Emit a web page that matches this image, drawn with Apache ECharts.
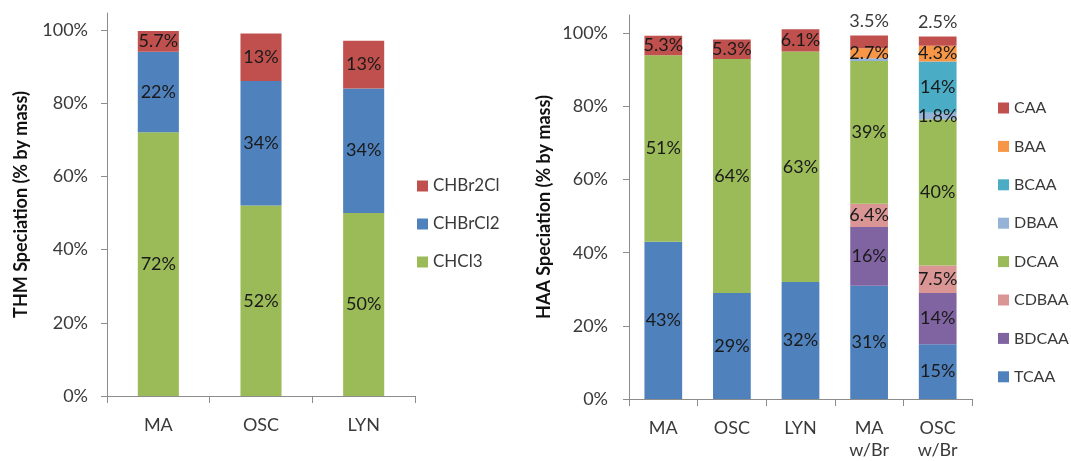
<!DOCTYPE html>
<html>
<head>
<meta charset="utf-8">
<script src="https://cdn.jsdelivr.net/npm/echarts@6/dist/echarts.min.js"></script>
<style>
  html, body { margin: 0; padding: 0; background: #fff; }
  #chart { width: 1071px; height: 461px; }
</style>
</head>
<body>
<div id="chart"></div>
<script>
// THM speciation by site (% by mass)
const thmSites = ['MA', 'OSC', 'LYN'];
const chcl3   = [72, 52, 50];
const chbrcl2 = [22, 34, 34];
const chbr2cl = [5.7, 13, 13];

// HAA speciation by site (% by mass)
const haaSites = ['MA', 'OSC', 'LYN', 'MA\nw/Br', 'OSC\nw/Br'];
const tcaa  = [43, 29, 32, 31, 15];
const bdcaa = [0, 0, 0, 16, 14];
const cdbaa = [0, 0, 0, 6.4, 7.5];
const dcaa  = [51, 64, 63, 39, 40];
const dbaa  = [0, 0, 0, 0.8, 1.8];
const bcaa  = [0, 0, 0, 0, 14];
const baa   = [0, 0, 0, 2.7, 4.3];
const caa   = [5.3, 5.3, 6.1, 3.5, 2.5];

const pctTicks = [0, 20, 40, 60, 80, 100];

const FONT = 'Lato';
const AXIS_GRAY = '#8c8c8c';
const TEXT = '#3a3a3a';

const labelFmt = p => (p.value >= 1 ? p.value + '%' : '');

function barSeries(name, values, color, axisIdx, gap) {
  return {
    name, type: 'bar', stack: 'total' + axisIdx,
    xAxisIndex: axisIdx, yAxisIndex: axisIdx,
    barCategoryGap: gap,
    itemStyle: { color },
    label: {
      show: true, position: 'inside', formatter: labelFmt,
      fontFamily: FONT, fontSize: 18, color: '#1a1a1a'
    },
    data: values.slice()
  };
}

function valueAxis(idx, max, name, margin, gap) {
  return {
    gridIndex: idx, type: 'value', min: 0, max, interval: 20,
    axisLine: { show: true, lineStyle: { color: AXIS_GRAY } },
    axisTick: { show: true, length: 6, customValues: pctTicks, lineStyle: { color: AXIS_GRAY } },
    axisLabel: { customValues: pctTicks, formatter: '{value}%', margin, fontFamily: FONT, fontSize: 18, color: TEXT },
    splitLine: { show: false },
    name, nameLocation: 'middle', nameGap: gap, nameRotate: 90,
    nameTextStyle: { fontFamily: FONT, fontWeight: 'bold', fontSize: 18, color: '#111' }
  };
}

function catAxis(idx, data, margin) {
  return {
    gridIndex: idx, type: 'category', data, boundaryGap: true,
    axisLine: { show: true, lineStyle: { color: AXIS_GRAY } },
    axisTick: { show: true, length: 7, interval: 0, lineStyle: { color: AXIS_GRAY } },
    axisLabel: { margin, interval: 0, fontFamily: FONT, fontSize: 18, color: TEXT, lineHeight: 22 }
  };
}

// CAA labels on the bromide-spiked samples sit above their bars
const caaSeries = barSeries('CAA', caa, '#c0504d', 1, '45%');
caaSeries.data = caa.map((v, i) =>
  haaSites[i].indexOf('w/Br') >= 0
    ? { value: v, label: { position: 'top', distance: 5, color: TEXT } }
    : v);

const option = {
  animation: false,
  backgroundColor: '#fff',
  grid: [
    { left: 107, top: 13, width: 308, height: 383 },
    { left: 629, top: 15, width: 343, height: 386 }
  ],
  xAxis: [catAxis(0, thmSites, 18), catAxis(1, haaSites, 18)],
  yAxis: [
    valueAxis(0, 104.6, 'THM Speciation (% by mass)', 19, 77),
    valueAxis(1, 105, 'HAA Speciation (% by mass)', 21, 76)
  ],
  legend: [
    {
      data: ['CHBr2Cl', 'CHBrCl2', 'CHCl3'],
      orient: 'vertical', left: 412, top: 171,
      itemWidth: 11, itemHeight: 11, itemGap: 18, icon: 'rect', selectedMode: false,
      textStyle: { fontFamily: FONT, fontSize: 17, color: TEXT, lineHeight: 20 }
    },
    {
      data: ['CAA', 'BAA', 'BCAA', 'DBAA', 'DCAA', 'CDBAA', 'BDCAA', 'TCAA'],
      orient: 'vertical', left: 993, top: 93,
      itemWidth: 11, itemHeight: 11, itemGap: 18.4, icon: 'rect', selectedMode: false,
      textStyle: { fontFamily: FONT, fontSize: 16, color: TEXT, lineHeight: 20 }
    }
  ],
  series: [
    barSeries('CHCl3', chcl3, '#9bbb59', 0, '60%'),
    barSeries('CHBrCl2', chbrcl2, '#4f81bd', 0, '60%'),
    barSeries('CHBr2Cl', chbr2cl, '#c0504d', 0, '60%'),
    barSeries('TCAA', tcaa, '#4f81bd', 1, '45%'),
    barSeries('BDCAA', bdcaa, '#8064a2', 1, '45%'),
    barSeries('CDBAA', cdbaa, '#d99694', 1, '45%'),
    barSeries('DCAA', dcaa, '#9bbb59', 1, '45%'),
    barSeries('DBAA', dbaa, '#95b3d7', 1, '45%'),
    barSeries('BCAA', bcaa, '#4bacc6', 1, '45%'),
    barSeries('BAA', baa, '#f79646', 1, '45%'),
    caaSeries
  ]
};

const chart = echarts.init(document.getElementById('chart'), null, { renderer: 'canvas' });
chart.setOption(option);
</script>
</body>
</html>
